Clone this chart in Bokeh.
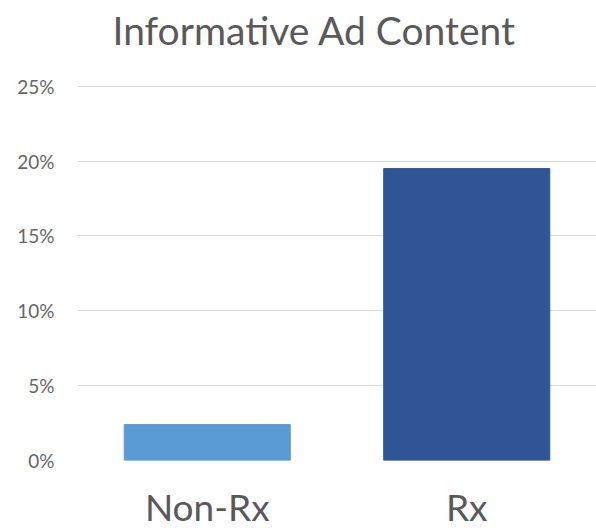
from bokeh.plotting import figure
from bokeh.models import FactorRange, Range1d, NumeralTickFormatter, FixedTicker, ColumnDataSource, Label
from bokeh.embed import file_html
from bokeh.resources import INLINE

title_text = "Informative Ad Content"
categories = ["Non-Rx", "Rx"]
values = [0.024, 0.195]
colors = ["#5B9BD5", "#2F5597"]
y_ticks = [0, 0.05, 0.10, 0.15, 0.20, 0.25]

src = ColumnDataSource(dict(cat=categories, val=values, color=colors))

FONT = "Lato"
TXT = "#595959"

p = figure(width=596, height=531, x_range=FactorRange(*categories, range_padding=0),
           y_range=Range1d(0, 0.3073), output_backend="svg", toolbar_location=None)
p.vbar(x="cat", top="val", width=0.64, color="color", source=src)

p.min_border_left = 77
p.min_border_right = 0
p.min_border_bottom = 70
p.min_border_top = 0
p.outline_line_color = None
p.background_fill_color = "white"
p.border_fill_color = "white"

# chart title, placed in the empty band at the top of the plot area
p.add_layout(Label(x=0.913, y=0.2873, text=title_text, text_font=FONT,
                   text_font_size="39px", text_color=TXT,
                   text_align="center", text_baseline="middle"))

p.xgrid.grid_line_color = None
p.ygrid.grid_line_color = "#D9D9D9"
p.ygrid.ticker = FixedTicker(ticks=y_ticks)

p.yaxis.ticker = FixedTicker(ticks=y_ticks)
p.yaxis.formatter = NumeralTickFormatter(format="0%")
p.yaxis.axis_line_color = None
p.yaxis.major_tick_line_color = None
p.yaxis.minor_tick_line_color = None
p.yaxis.major_label_text_font = FONT
p.yaxis.major_label_text_font_size = "19px"
p.yaxis.major_label_text_color = "#666666"
p.yaxis.major_label_standoff = 17

p.xaxis.axis_line_color = None
p.xaxis.major_tick_line_color = None
p.xaxis.major_label_text_font = FONT
p.xaxis.major_label_text_font_size = "37px"
p.xaxis.major_label_text_color = TXT
p.xaxis.major_label_standoff = 17

open("out.html", "w").write(file_html(p, INLINE))
